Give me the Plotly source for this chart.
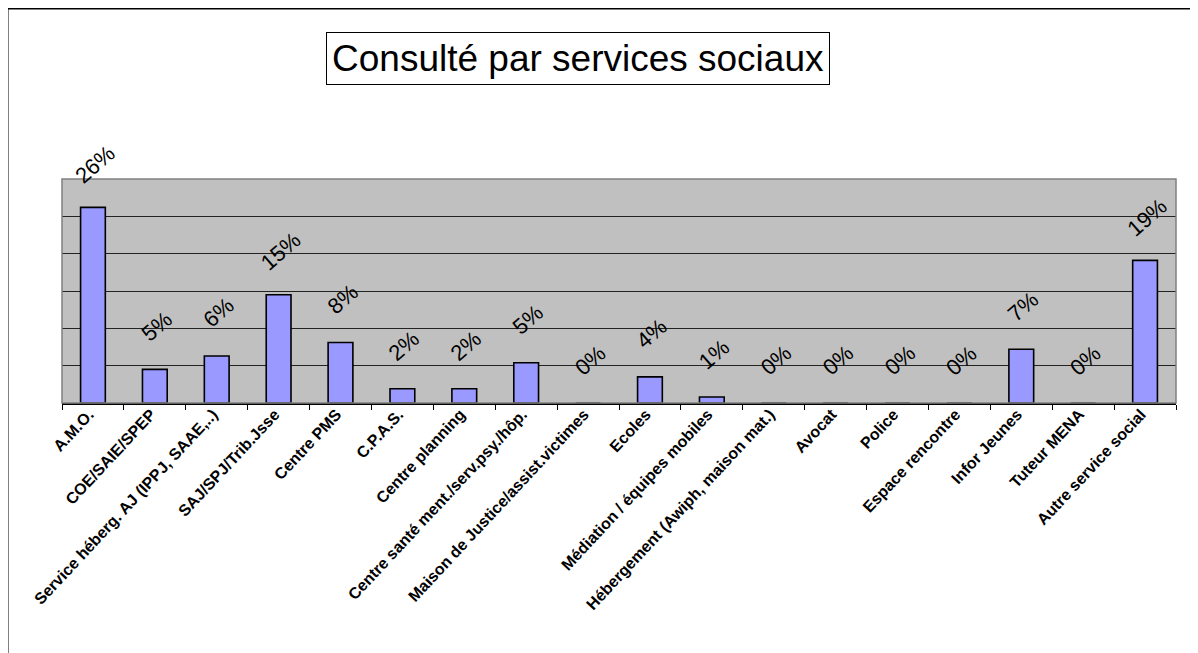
import plotly.graph_objects as go

categories = [
    "A.M.O.", "COE/SAIE/SPEP", "Service héberg. AJ (IPPJ, SAAE,..)",
    "SAJ/SPJ/Trib.Jsse", "Centre PMS", "C.P.A.S.", "Centre planning",
    "Centre santé ment./serv.psy./hôp.", "Maison de Justice/assist.victimes",
    "Ecoles", "Médiation / équipes mobiles", "Hébergement (Awiph, maison mat.)",
    "Avocat", "Police", "Espace rencontre", "Infor Jeunes", "Tuteur MENA",
    "Autre service social",
]
values = [26.2, 4.5, 6.3, 14.5, 8.1, 1.9, 1.9, 5.4, 0, 3.5, 0.8, 0, 0, 0, 0, 7.2, 0, 19.1]
value_labels = [f"{int(v + 0.5)}%" for v in values]
title_text = "Consulté par services sociaux"

W, H = 1198, 653
OFF = 8  # page body margin
P_L, P_R, P_T, P_B = 62, 1176, 179, 403
ML, MT = P_L - OFF, P_T - OFF
MR, MB = W - (P_R - OFF), H - (P_B - OFF)
PW, PH = W - ML - MR, H - MT - MB

def px_x(x):
    return (x - OFF - ML) / PW

def px_y(y):
    return 1 - (y - OFF - MT) / PH

fig = go.Figure()
fig.add_trace(go.Bar(
    x=categories, y=values,
    marker=dict(color="#9999FF", line=dict(color="black", width=1.6)),
    hoverinfo="skip",
))

annotations = []
for c, v, t in zip(categories, values, value_labels):
    annotations.append(dict(
        x=c, y=v, xref="x", yref="y", text=t, showarrow=False,
        textangle=-41, yshift=43, xshift=2,
        xanchor="center", yanchor="middle",
        font=dict(family="Liberation Sans, Arial", size=22, color="black"),
    ))

annotations.append(dict(
    x=px_x(578), y=px_y(58), xref="paper", yref="paper",
    xanchor="center", yanchor="middle",
    text=title_text, showarrow=False,
    font=dict(family="Liberation Sans, Arial", size=37, color="black"),
    bordercolor="black", borderwidth=1, borderpad=5, bgcolor="white",
))

shapes = [
    dict(type="rect", xref="paper", yref="paper", x0=0, y0=0, x1=1, y1=1,
         line=dict(color="#808080", width=1.5), layer="above"),
    dict(type="rect", xref="paper", yref="paper",
         x0=px_x(7.5), y0=px_y(8.5), x1=px_x(W + 40), y1=px_y(H + 40),
         line=dict(color="black", width=2)),
]

fig.update_layout(
    width=W, height=H,
    margin=dict(l=ML, r=MR, t=MT, b=MB),
    paper_bgcolor="white", plot_bgcolor="#C0C0C0",
    bargap=0.6, showlegend=False,
    annotations=annotations, shapes=shapes,
    xaxis=dict(
        type="category", tickangle=-47, tickson="boundaries",
        ticks="outside", ticklen=5, tickcolor="black", tickwidth=1,
        showline=True, linecolor="black", linewidth=1.5,
        showgrid=False, fixedrange=True,
        ticklabelshift=-4, ticklabelstandoff=-6,
        tickfont=dict(family="Liberation Sans, Arial", size=16, color="black", weight="bold"),
    ),
    yaxis=dict(
        range=[0, 30], dtick=5, showticklabels=False, ticks="",
        showgrid=True, gridcolor="#222222", gridwidth=1.2,
        zeroline=False, showline=False, fixedrange=True,
    ),
)

fig.write_html("out.html")
